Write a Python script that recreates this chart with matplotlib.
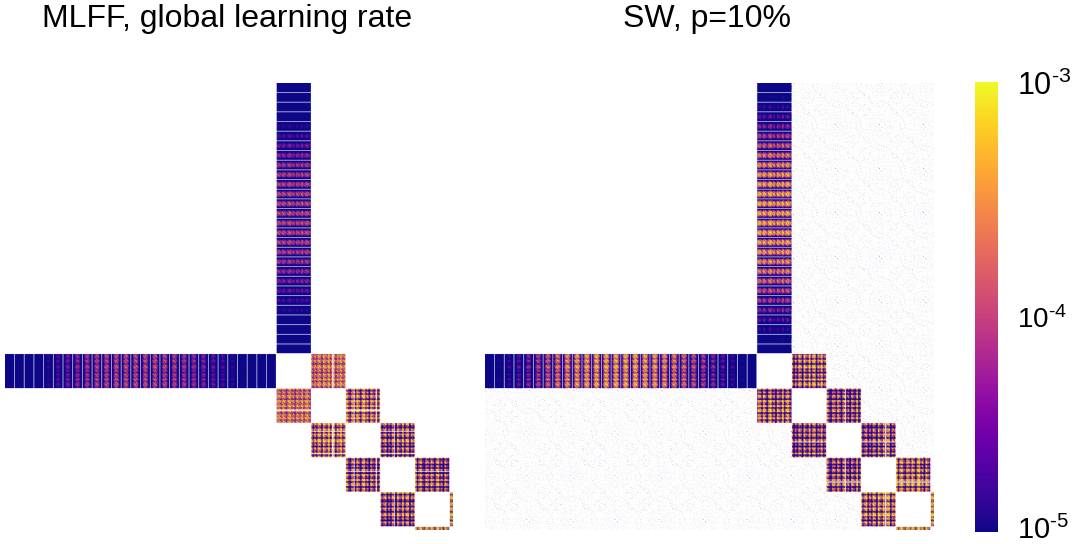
import numpy as np
import matplotlib
matplotlib.use("Agg")
import matplotlib.pyplot as plt
from matplotlib.colors import LogNorm

plt.rcParams["font.family"] = ["Liberation Sans", "DejaVu Sans"]
plt.rcParams["mathtext.fontset"] = "custom"
plt.rcParams["mathtext.rm"] = "Liberation Sans"
plt.rcParams["mathtext.it"] = "Liberation Sans:italic"
plt.rcParams["mathtext.bf"] = "Liberation Sans:bold"

nan = np.nan

# network: MNIST input, five hidden layers, output
layer_sizes = [784, 100, 100, 100, 100, 100, 10]
panel_titles = ["MLFF, global learning rate", "SW, p=10%"]
cbar_ticks = [1e-5, 1e-4, 1e-3]
cbar_labels = [r"$\mathregular{10^{\text{-}5}}$", r"$\mathregular{10^{\text{-}4}}$",
               r"$\mathregular{10^{\text{-}3}}$"]

# log10 offset of an input pixel by its row / column in the 28x28 image
# (nan = border pixel that never receives a gradient)
img_row_level = [-2.4, -2.0, -1.6, -1.3, -1.0, -0.7, -0.45, -0.25, -0.1, 0.0, 0.05, 0.1, 0.1, 0.1,
                 0.1, 0.1, 0.05, 0.0, -0.1, -0.2, -0.35, -0.55, -0.75, -1.0, -1.3, -1.6, -2.0, -2.4]
img_col_level = [-2.4, -2.2, -1.6, -1.3, -1.0, -0.7, -0.45, -0.25, -0.1, 0.0, 0.05, 0.1, 0.1, 0.1,
                 0.1, 0.1, 0.05, 0.0, -0.1, -0.25, -0.45, -0.7, -1.0, -1.3, -1.6, -1.9, -2.2, nan]

# stripe patterns of hidden units (log10 offsets, each entry covers 5 units)
unit_pattern_a = [0.3, -0.5, 0.6, 0.1, -0.8, 0.4, 0.7, -0.3, 0.2, -0.9,
                  0.5, 0.0, -0.4, 0.8, -0.6, 0.3, 0.6, -0.2, -0.7, 0.4]
unit_pattern_b = [-0.6, 0.5, 0.2, -0.9, 0.7, 0.0, -0.3, 0.8, -0.5, 0.4,
                  0.6, -0.8, 0.3, -0.1, 0.7, -0.4, 0.1, 0.5, -0.7, 0.2]
out_unit_level = [0.5, -0.6, 0.8, 0.1, -0.9, 0.6, 0.3, -0.4, 0.7, -0.2]
cell_jitter = [0.0, -0.6, 0.25, -1.1, 0.4, -0.3, nan, 0.15, -0.8, 0.3, -0.45, 0.2]

# per layer-pair block: in-h1, h1-h2, h2-h3, h3-h4, h4-h5, h5-out
mlff_block_base = [-4.25, -3.75, -3.85, -4.2, -4.25, -3.6]
mlff_block_spread = [0.35, 0.5, 1.0, 1.2, 1.2, 1.2]
sw_block_base = [-3.6, -4.1, -4.3, -4.3, -4.0, -3.5]
sw_block_spread = [0.5, 1.2, 1.2, 1.2, 1.2, 1.2]
mlff_dead_units = {2: [62, 63], 3: [24, 88], 4: [40]}
sw_dead_units = {3: [55], 4: [70, 71]}

# rewired long-range links in the small-world net
rewired_level = [-5.0, -4.7, -5.0, -3.3, -5.0, -4.4, -5.0, -4.8, -5.0, -3.0]
rewired_keep = 14  # out of 127 residues


def unit_levels(layer):
    if layer == len(layer_sizes) - 1:
        return np.array(out_unit_level)
    pat = unit_pattern_a if layer % 2 else unit_pattern_b
    return np.roll(np.repeat(pat, 5), 7 * layer)


def build_matrix(block_base, block_spread, dead_units, rewired):
    n = sum(layer_sizes)
    starts = np.cumsum([0] + layer_sizes)
    idx = np.arange(n)
    ii, jj = np.meshgrid(idx, idx, indexing="ij")
    jitter = np.array(cell_jitter)[(ii * ii + jj * jj + ii * jj) % len(cell_jitter)]
    logm = np.full((n, n), nan)

    pix = np.arange(layer_sizes[0])
    pix_level = np.array(img_row_level)[pix // 28] + np.array(img_col_level)[pix % 28]

    for k in range(len(layer_sizes) - 1):
        r0, r1 = starts[k], starts[k + 1]
        c0, c1 = starts[k + 1], starts[k + 2]
        if k == 0:
            block = block_base[0] + pix_level[:, None] + block_spread[0] * unit_levels(1)[None, :]
        else:
            block = block_base[k] + block_spread[k] * (unit_levels(k)[:, None] + unit_levels(k + 1)[None, :])
        block = block + jitter[r0:r1, c0:c1]
        for u in dead_units.get(k, []):
            block[u, :] = nan
        for u in dead_units.get(k + 1, []):
            block[:, u] = nan
        logm[r0:r1, c0:c1] = block
        logm[c0:c1, r0:r1] = block.T

    if rewired:
        layer_of = np.repeat(np.arange(len(layer_sizes)), layer_sizes)
        far = np.abs(layer_of[:, None] - layer_of[None, :]) >= 2
        hit = ((7 * (ii * ii + jj * jj) + 5 * ii * jj + 3 * (ii + jj)) % 127) < rewired_keep
        sel = far & hit
        logm[sel] = np.array(rewired_level)[((ii * 3 + jj * 5) % len(rewired_level))[sel]]

    return 10.0 ** logm


mats = [
    build_matrix(mlff_block_base, mlff_block_spread, mlff_dead_units, False),
    build_matrix(sw_block_base, sw_block_spread, sw_dead_units, True),
]

W, H = 1084, 544
fig = plt.figure(figsize=(W / 100, H / 100), dpi=100)
cmap = plt.get_cmap("plasma").copy()
cmap.set_bad((1, 1, 1, 0))
norm = LogNorm(vmin=cbar_ticks[0], vmax=cbar_ticks[-1])

panel_left = [5, 485]
for left, mat, title in zip(panel_left, mats, panel_titles):
    ax = fig.add_axes([left / W, 14 / H, 448 / W, 447 / H])
    im = ax.imshow(mat, cmap=cmap, norm=norm, aspect="auto", interpolation="antialiased")
    ax.set_axis_off()
    fig.text((left + 222) / W, (H - 27) / H, title, ha="center", va="baseline", fontsize=23)

cax = fig.add_axes([975 / W, 12 / H, 23 / W, 450 / H])
cb = fig.colorbar(im, cax=cax)
cb.outline.set_visible(False)
cax.set_yticks([])
cax.minorticks_off()
cax.tick_params(which="both", length=0, labelright=False)

label_baselines = [539, 328, 95]
label_sizes = [21, 20, 22]
for lab, yb, fs in zip(cbar_labels, label_baselines, label_sizes):
    fig.text(1017 / W, (H - yb) / H, lab, ha="left", va="baseline", fontsize=fs)

fig.savefig("out.png", dpi=100, facecolor="white")
